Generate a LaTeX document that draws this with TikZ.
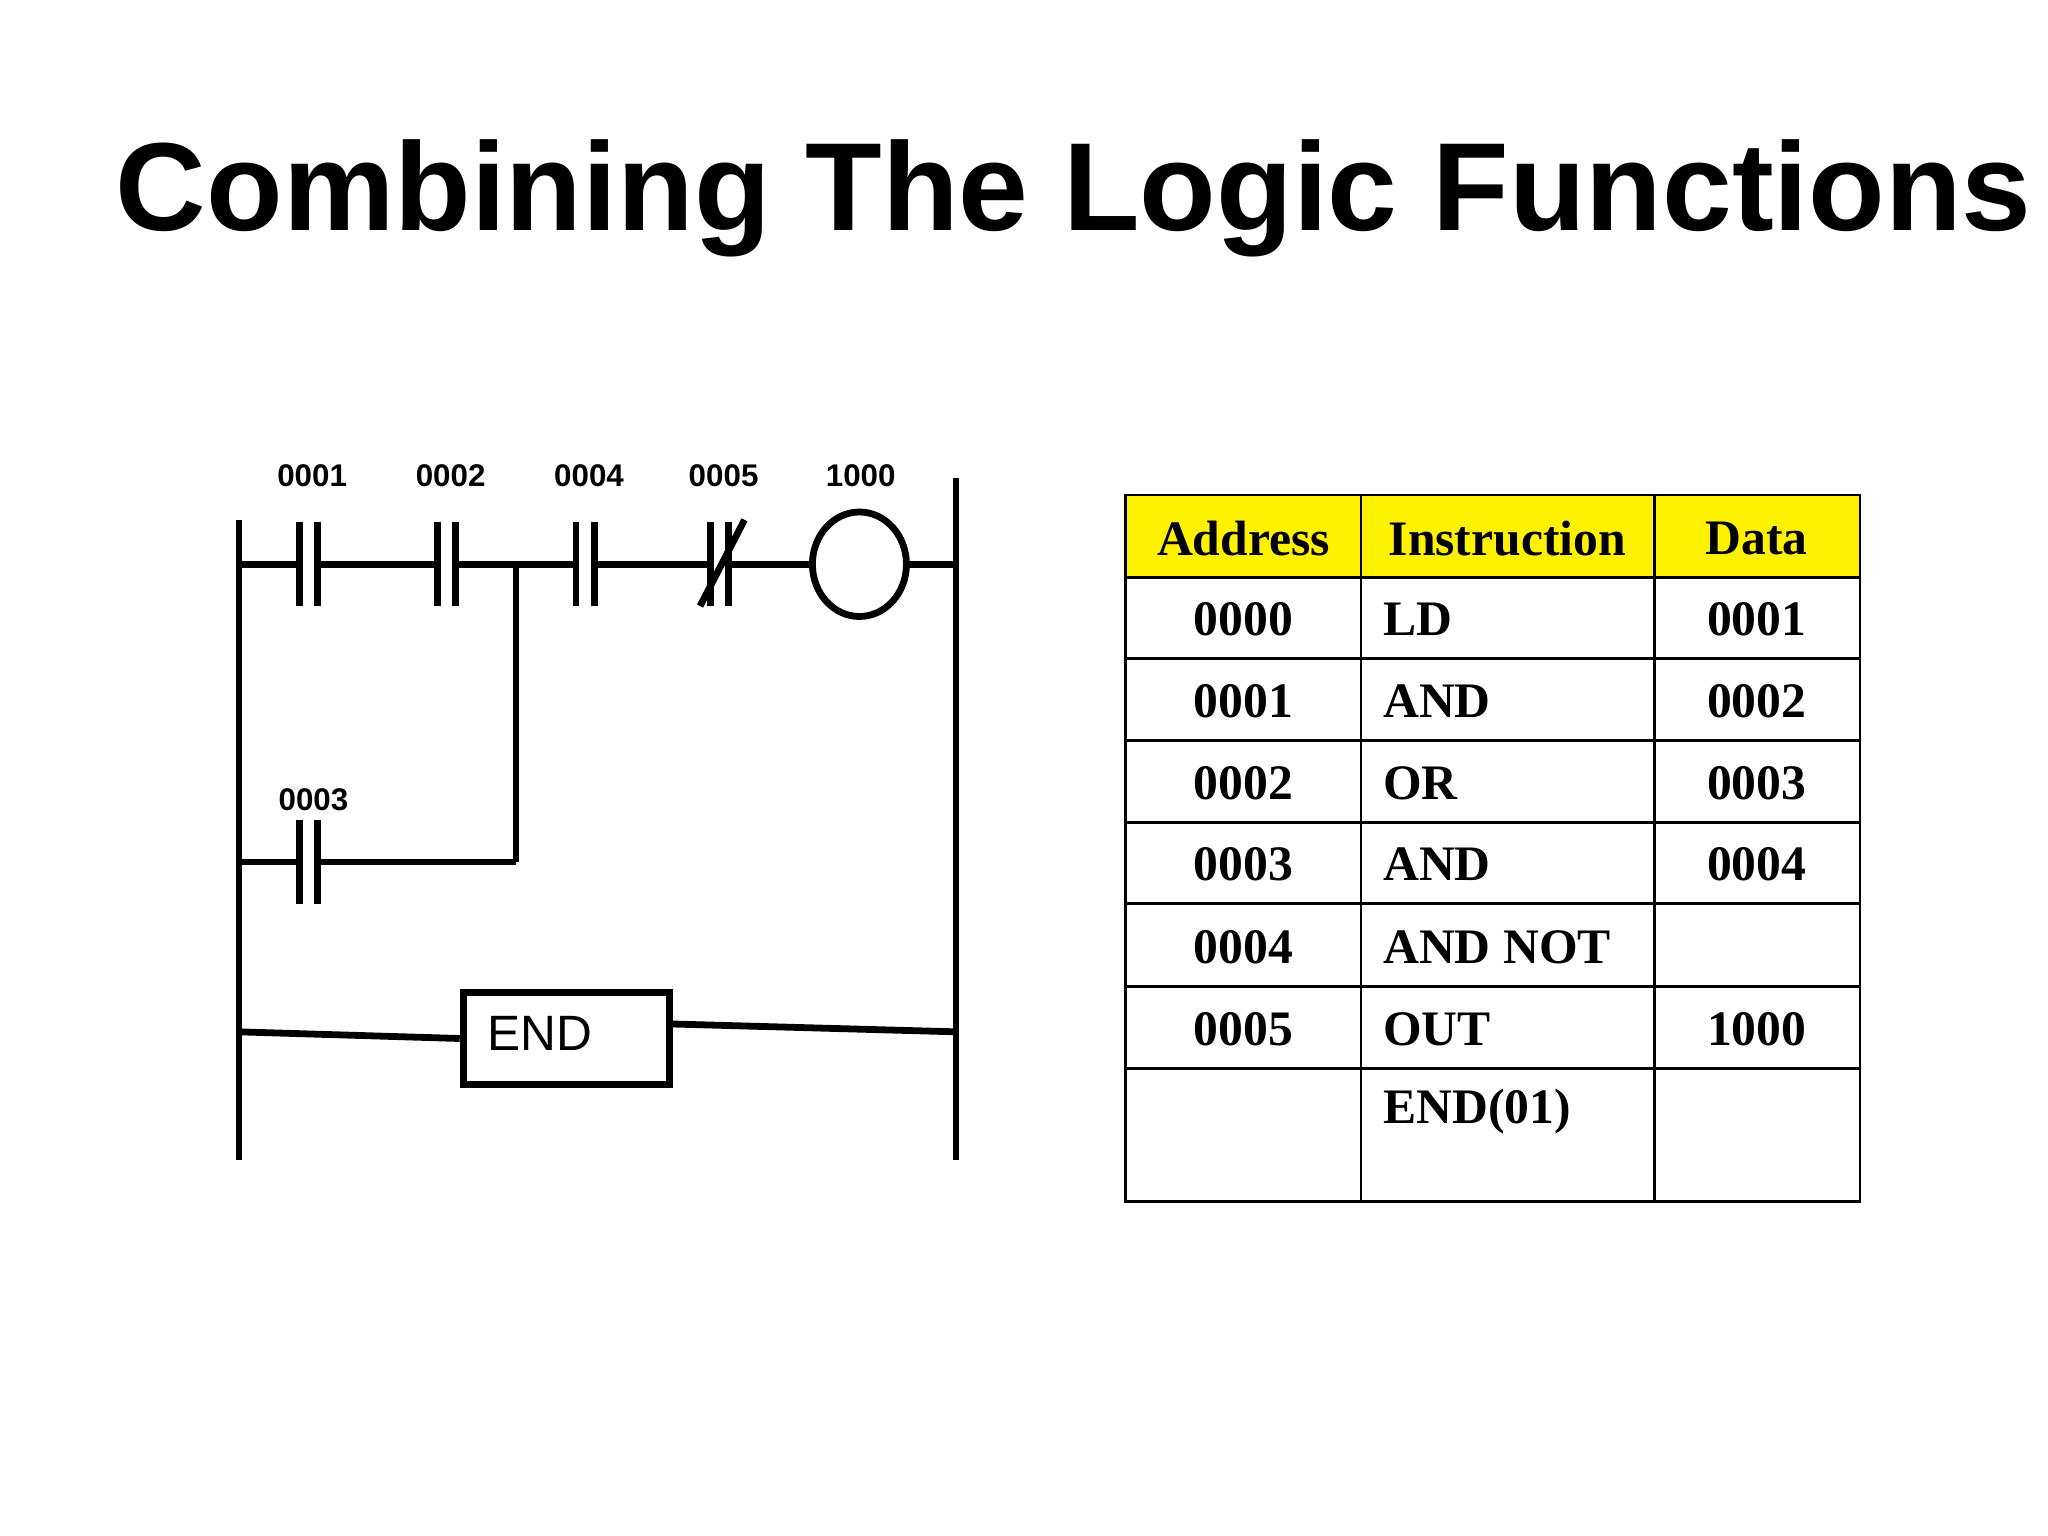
\documentclass[tikz,border=0pt]{standalone}
\usepackage{fontspec}
\setmainfont{Liberation Serif}
\newfontfamily\sans{Liberation Sans}
\begin{document}
\begin{tikzpicture}[x=0.5pt,y=-0.5pt,
  rail/.style={line width=2.6pt},
  lbl/.style={font=\sans\bfseries\fontsize{12}{14}\selectfont},
  cell/.style={font=\bfseries\fontsize{19}{22}\selectfont}]
\useasboundingbox (0,0) rectangle (1568,1176);
\node[font=\sans\bfseries\fontsize{48}{56}\selectfont] (title) at (822,152) {Combining The Logic Functions};
% rails
\draw[rail] (183,398) coordinate (L1) -- (183,888) coordinate (L2);
\draw[rail] (732,366) coordinate (R1) -- (732,888) coordinate (R2);
% rung 1
\draw[rail] (183,432) -- (229,432) (243,432) -- (335,432) (349,432) -- (441,432) (455,432) -- (544,432) (558,432) -- (622,432) (694,432) -- (732,432);
\foreach \x/\t in {236/0001,342/0002,448/0004,551/0005}{
  \draw[rail] (\x-7,400) -- (\x-7,464) (\x+7,400) -- (\x+7,464);
  \node[lbl] (l\t) at (\x+3,364) {\t};
}
\draw[rail] (536,464) -- (570,398);
\draw[rail] (658,432) ellipse (36 and 40);
\node[lbl] (l1000) at (659,364) {1000};
% branch
\draw[rail] (395,432) -- (395,660);
\draw[rail] (183,660) -- (229,660) (243,660) -- (395,660);
\draw[rail] (229,628) -- (229,692) (243,628) -- (243,692);
\node[lbl] (l0003) at (240,612) {0003};
% END
\node[draw,line width=2.6pt,minimum width=79pt,minimum height=35.5pt,anchor=north west,inner sep=0pt] (end) at (352,757) {};
\node[font=\sans\fontsize{19}{22}\selectfont,anchor=west] (endt) at (366,791) {END};
\draw[rail] (183,790) -- (end.west);
\draw[rail] (end.east |- 0,784) -- (732,790);
% table
\fill[yellow] (862,379) rectangle (1424,442);
\draw[line width=1.1pt] (862,379) rectangle (1424,920);
\foreach \y in {442,504,567,630,692,755,818} \draw[line width=1.1pt] (862,\y) -- (1424,\y);
\foreach \x in {1042,1267} \draw[line width=1.1pt] (\x,379) -- (\x,920);
\node[cell] (h1) at (952,412) {Address};
\node[cell] (h2) at (1154,412) {Instruction};
\node[cell] (h3) at (1345,412) {Data};
\foreach \y/\a/\i/\d [count=\n] in {474/0000/LD/0001,537/0001/AND/0002,600/0002/OR/0003,662/0003/AND/0004,725/0004/AND NOT/,788/0005/OUT/1000}{
  \node[cell] (a\n) at (952,\y) {\a};
  \node[cell,anchor=west] (i\n) at (1052,\y) {\i};
  \node[cell] (d\n) at (1345,\y) {\d};
}
\node[cell,anchor=west] (i7) at (1052,851) {END(01)};
\end{tikzpicture}
\end{document}
